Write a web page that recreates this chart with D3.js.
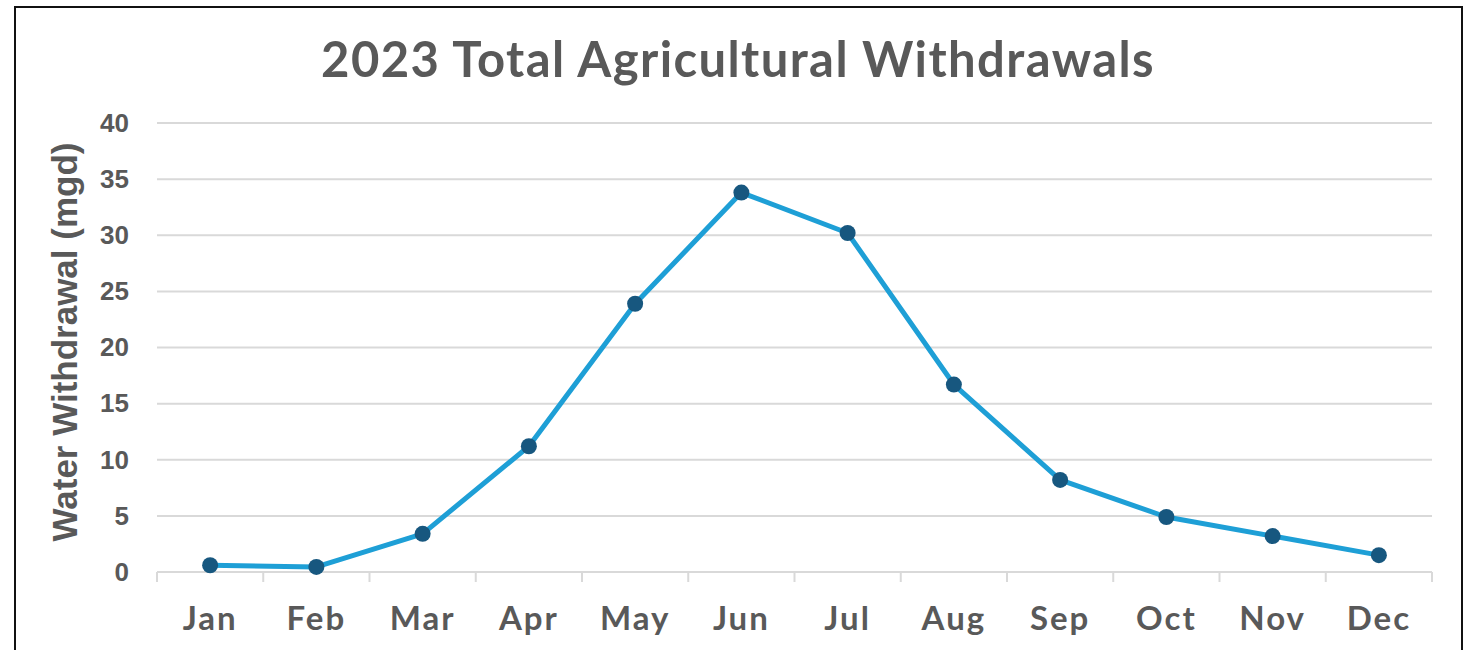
<!DOCTYPE html>
<html><head><meta charset="utf-8">
<script src="https://cdn.jsdelivr.net/npm/d3@7"></script>
<style>html,body{margin:0;padding:0;background:#fff;overflow:hidden}</style>
</head><body>
<script>
const months = ["Jan","Feb","Mar","Apr","May","Jun","Jul","Aug","Sep","Oct","Nov","Dec"];
const withdrawals = [0.6,0.45,3.4,11.2,23.9,33.8,30.2,16.7,8.2,4.9,3.2,1.5];
const yTicks = [0,5,10,15,20,25,30,35,40];
const titleText = "2023 Total Agricultural Withdrawals";
const yLabel = "Water Withdrawal (mgd)";

const W = 1471, H = 650;
const svg = d3.select("body").append("svg").attr("width", W).attr("height", H);
svg.append("rect").attr("x",15).attr("y",7).attr("width",1447).attr("height",700)
  .attr("fill","#fff").attr("stroke","#111").attr("stroke-width",2);

const pLeft = 157, pRight = 1432, pTop = 123, pBottom = 572;
const x = d3.scaleBand().domain(months).range([pLeft, pRight]);
const y = d3.scaleLinear().domain([0, 40]).range([pBottom, pTop]);

svg.append("text").attr("x", 738).attr("y", 77).attr("text-anchor","middle")
  .attr("font-family","Lato, 'Open Sans', sans-serif").attr("font-weight","bold")
  .attr("font-size",49).attr("letter-spacing",1.4).attr("fill","#595959").text(titleText);

// gridlines
svg.append("g").selectAll("line").data(yTicks.filter(d=>d>0)).join("line")
  .attr("x1", pLeft).attr("x2", pRight).attr("y1", d=>y(d)).attr("y2", d=>y(d))
  .attr("stroke","#d9d9d9").attr("stroke-width",2);

// y axis labels
const yAxis = d3.axisLeft(y).tickValues(yTicks).tickSize(0).tickPadding(0);
const gy = svg.append("g").attr("transform", `translate(129,0)`).call(yAxis);
gy.select(".domain").remove();
gy.selectAll("text").attr("font-family","'Liberation Sans', Arial, sans-serif")
  .attr("font-weight","bold").attr("font-size",26).attr("fill","#595959");

// x axis
svg.append("line").attr("x1",pLeft).attr("x2",pRight).attr("y1",pBottom).attr("y2",pBottom)
  .attr("stroke","#d9d9d9").attr("stroke-width",2);
const tickPos = months.map(m => x(m)).concat([pRight]);
svg.append("g").selectAll("line").data(tickPos).join("line")
  .attr("x1", d=>d).attr("x2", d=>d).attr("y1", pBottom).attr("y2", pBottom+10)
  .attr("stroke","#d9d9d9").attr("stroke-width",2);
const xAxis = d3.axisBottom(x).tickSize(0).tickPadding(0);
const gx = svg.append("g").attr("transform", `translate(0,607)`).call(xAxis);
gx.select(".domain").remove();
gx.selectAll("text").attr("font-family","Lato, 'Open Sans', sans-serif")
  .attr("font-weight","bold").attr("font-size",33).attr("letter-spacing",2).attr("fill","#595959");

// y label
svg.append("text").attr("transform", `translate(77,342) rotate(-90)`).attr("text-anchor","middle")
  .attr("font-family","'Liberation Sans', Arial, sans-serif").attr("font-weight","bold")
  .attr("font-size",35).attr("fill","#595959").text(yLabel);

// line
const line = d3.line().x((d,i)=>x(months[i]) + x.bandwidth()/2).y(d=>y(d));
svg.append("path").datum(withdrawals).attr("d", line).attr("fill","none")
  .attr("stroke","#1e9fd6").attr("stroke-width",5).attr("stroke-linejoin","round");
svg.append("g").selectAll("circle").data(withdrawals).join("circle")
  .attr("cx",(d,i)=>x(months[i]) + x.bandwidth()/2).attr("cy", d=>y(d)).attr("r",8)
  .attr("fill","#17577f");
</script>
</body></html>
